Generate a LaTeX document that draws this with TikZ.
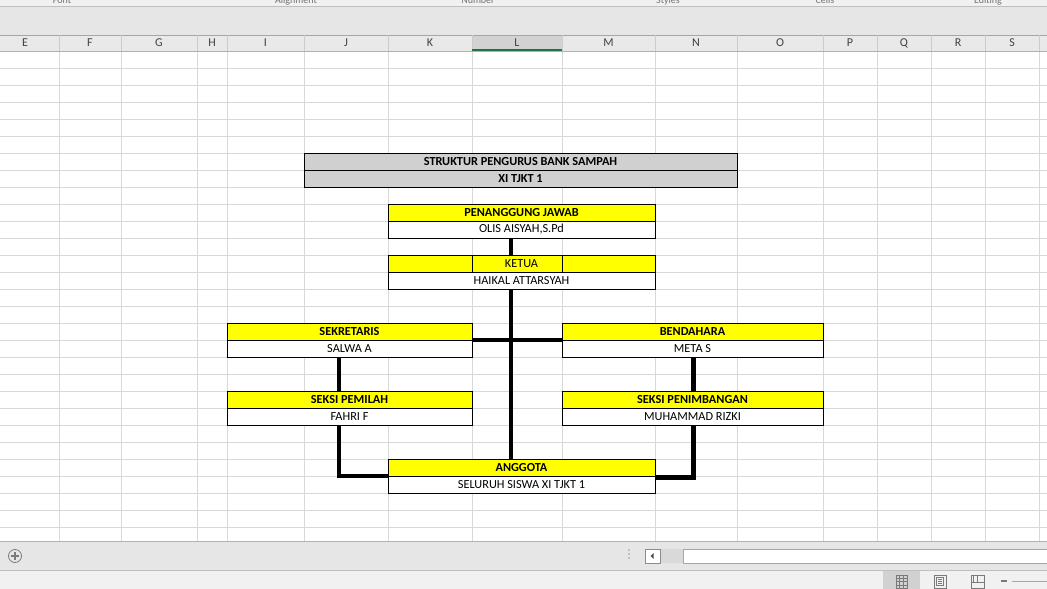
\documentclass[tikz,border=0pt]{standalone}
\usepackage{fontspec}
\setmainfont{Carlito}
\usepackage{xcolor}
\usepackage{tikz}
\usetikzlibrary{positioning}

\definecolor{cellyellow}{HTML}{FFFF00}
\definecolor{titlegray}{HTML}{D0D0D0}
\definecolor{gridgray}{HTML}{D8D8D8}
\definecolor{headgray}{HTML}{E9E9E9}
\definecolor{selgray}{HTML}{D2D2D2}
\definecolor{xlgreen}{HTML}{217346}
\definecolor{bargray}{HTML}{E6E6E6}
\definecolor{statusgray}{HTML}{F1F1F1}
\definecolor{icongray}{HTML}{7A7A7A}

\begin{document}
\begin{tikzpicture}[
    x=1pt, y=-1pt,
    role/.style={rectangle, draw=black, line width=0.8pt, fill=cellyellow, inner sep=0pt, outer sep=0pt, minimum height=17pt, font=\fontsize{12.3}{13}\selectfont\bfseries},
    person/.style={rectangle, draw=black, line width=0.8pt, fill=white, inner sep=0pt, outer sep=0pt, minimum height=17pt, font=\fontsize{12.3}{13}\selectfont},
    headline/.style={role, fill=titlegray},
    conn/.style={line width=4.6pt, draw=black},
    gridline/.style={draw=gridgray, line width=0.8pt},
    colname/.style={font=\fontsize{12}{13}\selectfont, text=black!75, inner sep=0pt},
    ribbonlabel/.style={font=\fontsize{10}{11}\selectfont, text=black!55, inner sep=0pt, anchor=base},
    icon/.style={draw=icongray, line width=0.8pt}
]
    \useasboundingbox (0,0) rectangle (1047,589);

    % Ribbon strip
    \fill[bargray] (0,0) rectangle (1047,35);
    \fill[statusgray] (0,0) rectangle (1047,6);
    \draw[black!25] (0,6) -- (1047,6);
    \begin{scope}
        \clip (0,0) rectangle (1047,5.5);
        \foreach \t/\x in {Font/62, Alignment/296, Number/478, Styles/668, Cells/825, Editing/988}
            \node[ribbonlabel] (rib\t) at (\x,3) {\t};
    \end{scope}

    % Sheet grid
    \fill[white] (0,51) rectangle (1047,541);
    \foreach \y in {68,85,...,527}
        \draw[gridline] (0,\y) -- (1047,\y);
    \foreach \x in {59,121,197,227,304,388,472,562,655,737,823,877,931,985,1039}
        \draw[gridline] (\x,51) -- (\x,541);

    % Column headers
    \fill[headgray] (0,35) rectangle (1047,51);
    \fill[selgray] (472,35) rectangle (562,51);
    \draw[black!35] (0,35) -- (1047,35);
    \draw[black!30] (0,51) -- (1047,51);
    \foreach \x in {59,121,197,227,304,388,472,562,655,737,823,877,931,985,1039}
        \draw[black!20] (\x,35) -- (\x,51);
    \draw[xlgreen, line width=2pt] (472,50) -- (562,50);
    \foreach \c/\x in {E/25, F/90, G/159, H/212, I/265.5, J/346, K/430, L/517, M/608.5, N/696, O/780, P/850, Q/904, R/958, S/1012}
        \node[colname] (col\c) at (\x,43) {\c};

    % Title block
    \node[headline, minimum width=433pt] (title) at (520.5,161.5) {STRUKTUR PENGURUS BANK SAMPAH};
    \node[headline, minimum width=433pt, below=0pt of title] (kelas) {XI TJKT 1};

    % Top of the structure
    \node[role, minimum width=267pt] (pj) at (521.5,212.5) {PENANGGUNG JAWAB};
    \node[person, minimum width=267pt, below=0pt of pj] (olis) {OLIS AISYAH,S.Pd};
    \node[role, minimum width=267pt] (ketua) at (521.5,263.5) {\mdseries KETUA};
    \node[person, minimum width=267pt, below=0pt of ketua] (haikal) {HAIKAL ATTARSYAH};
    \draw[black, line width=0.8pt] (472,255) -- (472,272) (562,255) -- (562,272);

    % Second row
    \node[role, minimum width=245pt] (sekretaris) at (349.5,331.5) {SEKRETARIS};
    \node[person, minimum width=245pt, below=0pt of sekretaris] (salwa) {SALWA A};
    \node[role, minimum width=261pt] (bendahara) at (692.5,331.5) {BENDAHARA};
    \node[person, minimum width=261pt, below=0pt of bendahara] (meta) {META S};

    % Sections
    \node[role, minimum width=245pt] (pemilah) at (349.5,399.5) {SEKSI PEMILAH};
    \node[person, minimum width=245pt, below=0pt of pemilah] (fahri) {FAHRI F};
    \node[role, minimum width=261pt] (penimbangan) at (692.5,399.5) {SEKSI PENIMBANGAN};
    \node[person, minimum width=261pt, below=0pt of penimbangan] (rizki) {MUHAMMAD RIZKI};

    % Members
    \node[role, minimum width=267pt] (anggota) at (521.5,467.5) {ANGGOTA};
    \node[person, minimum width=267pt, below=0pt of anggota] (siswa) {SELURUH SISWA XI TJKT 1};

    % Connections
    \coordinate (spine) at (511,0);
    \coordinate (lcol) at (339,0);
    \coordinate (rcol) at (693.5,0);
    \draw[conn] (olis.south -| spine) -- (ketua.north -| spine);
    \draw[conn] (haikal.south -| spine) -- (anggota.north -| spine);
    \draw[conn] (sekretaris.south east) -- (bendahara.south west);
    \draw[conn] (salwa.south -| lcol) -- (pemilah.north -| lcol);
    \draw[conn] (meta.south -| rcol) -- (penimbangan.north -| rcol);
    \draw[conn] (fahri.south -| lcol) |- (anggota.south west);
    \draw[conn] (rizki.south -| rcol) |- ([yshift=-1.5pt]anggota.south east);

    % Sheet tab bar
    \fill[bargray] (0,541) rectangle (1047,570);
    \draw[black!30] (0,541) -- (1047,541);
    \draw[icon] (15,556) circle (6.5);
    \draw[icon, line width=1.1pt] (11,556) -- (19,556) (15,552) -- (15,560);
    \foreach \y in {550,554,558}
        \fill[black!40] (629,\y) circle (0.8);
    \fill[black!15] (660,549) rectangle (683,563);
    \draw[black!45, fill=white] (645,549) rectangle (660,563);
    \fill[black!70] (650.5,556) -- (653.5,553) -- (653.5,559) -- cycle;
    \draw[black!35, fill=white] (683,549) rectangle (1050,563);

    % Status bar
    \fill[statusgray] (0,570) rectangle (1047,589);
    \draw[black!25] (0,570) -- (1047,570);
    \fill[black!18] (883,571) rectangle (920,589);
    \draw[icon] (896,575) rectangle (907,588);
    \foreach \x in {899.7,903.3}
        \draw[icon] (\x,575) -- (\x,588);
    \foreach \y in {578.3,581.7,585}
        \draw[icon] (896,\y) -- (907,\y);
    \draw[icon] (934,575) rectangle (946,588);
    \draw[icon] (936.5,577.5) rectangle (943.5,585.5);
    \foreach \y in {579.5,581.5,583.5}
        \draw[icon, line width=0.5pt] (938,\y) -- (942,\y);
    \draw[icon] (971,575) rectangle (984,588);
    \draw[icon] (971,582) -- (984,582);
    \draw[icon] (977.5,575) -- (977.5,582);
    \draw[icon] (973.5,575) -- (973.5,582);
    \fill[icongray] (1001,580) rectangle (1007,582);
    \draw[black!35] (1012,581) -- (1047,581);
\end{tikzpicture}
\end{document}
